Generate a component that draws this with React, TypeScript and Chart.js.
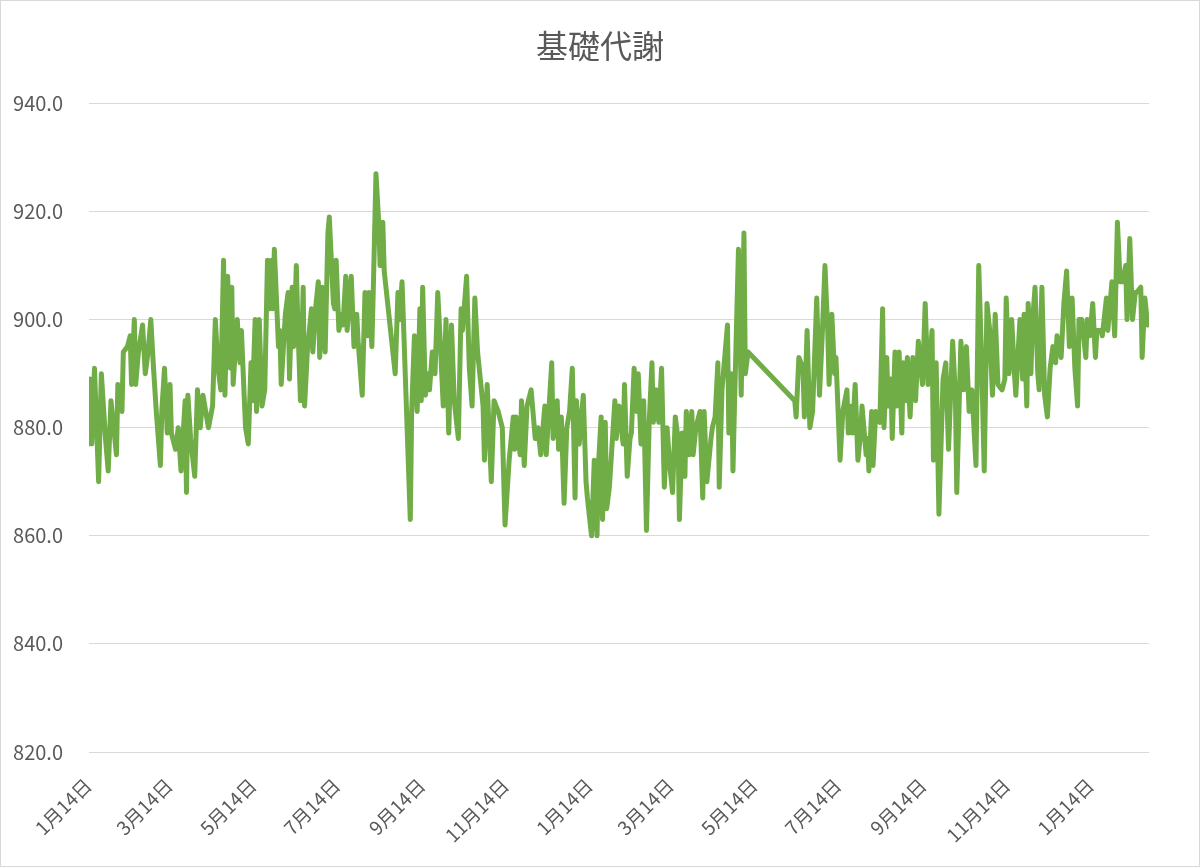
import React, { useEffect, useRef } from "react";
import { Chart, registerables } from "chart.js";

Chart.register(...registerables);

// Day offsets counted from the first 1月14日
const dayOffsets: number[] = [
  0, 1, 2, 4, 7, 9, 12, 14, 16, 20, 21, 24, 25, 28, 30, 31, 33, 34, 36, 39,
  41, 43, 45, 47, 49, 52, 53, 55, 57, 59, 60, 63, 65, 67, 70, 71, 72, 74, 77, 79,
  81, 83, 87, 90, 92, 94, 96, 98, 99, 101, 103, 104, 105, 108, 109, 110, 111, 113, 114, 116,
  118, 119, 121, 122, 124, 126, 128, 130, 132, 133, 134, 135, 138, 139, 140, 143, 145, 146, 148, 149,
  151, 152, 154, 156, 157, 159, 162, 163, 165, 167, 168, 170, 172, 174, 175, 178, 179, 180, 182, 184,
  185, 187, 188, 191, 193, 195, 196, 199, 201, 203, 204, 206, 207, 209, 211, 212, 214, 215,
  223, 225, 226, 228, 234, 235, 237, 239, 241, 242, 243, 245, 247, 248, 250, 252, 254, 256, 258, 260,
  262, 264, 266, 269, 271, 272, 275, 277, 279, 281, 283, 287, 288, 290, 293, 295, 298, 301, 303, 306,
  309, 310, 311, 314, 315, 317, 319, 322, 325, 327, 329, 332, 333, 337, 338, 341, 342, 344, 346, 348,
  350, 352, 354, 355, 357, 360, 362, 363, 366, 368, 370, 371, 373, 374, 376, 377, 379, 381, 383, 384,
  386, 389, 390, 392, 394, 395, 397, 399, 400, 402, 404, 406, 408, 410, 411, 413, 415, 417, 419, 421,
  423, 425, 427, 429, 430, 432, 434, 435, 437, 439, 440, 442, 445, 447, 448, 450, 453, 454, 456, 458,
  459, 461, 465, 466, 468, 469, 470, 473, 475, 477, 478, 480,
  514, 515, 517, 520, 521, 523, 525, 527, 530, 532, 534, 536, 538, 539, 541, 543, 544, 547, 549, 552,
  553, 554, 556, 558, 560, 562, 563, 566, 567, 568, 570, 571, 573, 576, 578, 579, 581, 582, 584, 585,
  587, 588, 590, 592, 593, 595, 596, 598, 600, 602, 604, 607, 609, 611, 614, 615, 617, 619, 622, 624,
  626, 629, 631, 632, 635, 637, 639, 641, 643, 646, 648, 650, 652, 654, 656, 658, 660, 662, 665, 667,
  668, 670, 672, 674, 675, 678, 680, 681, 683, 684, 686, 687, 689, 691, 692, 694, 696, 698, 700, 702,
  704, 705, 708, 710, 712, 714, 716, 718, 720, 721, 723, 726, 727, 729, 731, 733, 734, 737, 738, 741,
  742, 745, 747, 749, 751, 753, 755, 756, 758, 760, 762, 763, 766, 767, 769, 771,
];

// 基礎代謝 (kcal)
const bmrValues: number[] = [
  877, 889, 877, 891, 870, 890, 878, 872, 885, 875, 888, 883, 894, 895, 897, 888, 900, 888, 894, 899,
  890, 894, 900, 891, 883, 873, 883, 891, 879, 888, 879, 876, 880, 872, 885, 868, 886, 878, 871, 887,
  880, 886, 880, 884, 900, 891, 887, 911, 886, 908, 891, 906, 888, 900, 895, 892, 898, 886, 880, 877,
  892, 885, 900, 883, 900, 884, 887, 911, 902, 911, 902, 913, 895, 898, 888, 901, 905, 889, 906, 895,
  910, 900, 885, 906, 884, 894, 902, 894, 902, 907, 893, 906, 894, 916, 919, 903, 902, 911, 898, 901,
  899, 908, 898, 908, 895, 901, 896, 886, 905, 897, 905, 895, 905, 927, 918, 910, 918, 909,
  890, 905, 900, 907, 863, 883, 897, 883, 902, 885, 906, 886, 890, 887, 894, 890, 905, 895, 884, 900,
  879, 899, 885, 878, 902, 898, 908, 891, 884, 904, 894, 884, 874, 888, 870, 885, 883, 880, 862, 874,
  882, 876, 882, 875, 885, 873, 884, 887, 878, 880, 875, 884, 875, 892, 878, 885, 876, 882, 866, 880,
  883, 891, 867, 885, 877, 886, 870, 867, 860, 874, 860, 873, 882, 863, 881, 865, 869, 877, 885, 878,
  884, 877, 888, 871, 878, 879, 891, 883, 890, 877, 885, 861, 881, 892, 881, 887, 881, 891, 869, 880,
  873, 868, 882, 878, 863, 879, 871, 883, 875, 883, 875, 880, 883, 867, 883, 870, 878, 880, 882, 892,
  869, 887, 899, 879, 890, 872, 883, 913, 886, 916, 890, 894,
  885, 882, 893, 891, 882, 898, 880, 883, 904, 886, 897, 910, 898, 888, 901, 890, 893, 874, 883, 887,
  879, 884, 879, 888, 874, 879, 884, 875, 878, 872, 883, 873, 883, 881, 902, 880, 893, 884, 889, 878,
  894, 884, 894, 879, 892, 885, 893, 882, 893, 885, 896, 888, 903, 888, 898, 874, 892, 864, 889, 892,
  876, 896, 886, 868, 896, 887, 895, 883, 887, 873, 910, 893, 872, 903, 898, 886, 901, 888, 887, 889,
  904, 890, 900, 890, 886, 900, 889, 901, 884, 903, 890, 899, 906, 890, 887, 906, 886, 882, 891, 895,
  892, 897, 893, 903, 909, 895, 904, 891, 884, 900, 900, 893, 900, 897, 903, 893, 898, 898, 897, 904,
  898, 907, 897, 918, 907, 907, 910, 900, 915, 900, 905, 905, 906, 893, 904, 899,
];

const tickDays: number[] = [0, 59, 120, 181, 243, 304, 365, 424, 485, 546, 608, 669, 730];
const tickLabels: string[] = [
  "1月14日", "3月14日", "5月14日", "7月14日", "9月14日", "11月14日",
  "1月14日", "3月14日", "5月14日", "7月14日", "9月14日", "11月14日", "1月14日",
];
const yTicks: number[] = [820, 840, 860, 880, 900, 920, 940];

export default function App() {
  const canvasRef = useRef<HTMLCanvasElement | null>(null);

  useEffect(() => {
    if (!canvasRef.current) return;
    Chart.defaults.font.family = '"Noto Sans CJK JP", "Noto Sans", sans-serif';
    const chart = new Chart(canvasRef.current, {
      type: "line",
      data: {
        datasets: [
          {
            label: "基礎代謝",
            data: dayOffsets.map((d, i) => ({ x: d, y: bmrValues[i] })),
            borderColor: "#70ad47",
            backgroundColor: "#70ad47",
            borderWidth: 5,
            pointRadius: 0,
            tension: 0,
            borderJoinStyle: "round",
            borderCapStyle: "round",
          },
        ],
      },
      options: {
        animation: false,
        responsive: true,
        maintainAspectRatio: false,
        layout: { padding: 0 },
        plugins: {
          legend: { display: false },
          tooltip: { enabled: false },
          title: {
            display: true,
            text: "基礎代謝",
            color: "#595959",
            font: { size: 32, weight: "normal" },
            padding: { top: 26, bottom: 38 },
          },
        },
        scales: {
          x: {
            type: "linear",
            min: 0,
            max: 772,
            afterBuildTicks: (s: any) => {
              s.ticks = tickDays.map((v) => ({ value: v }));
            },
            afterFit: (s: any) => {
              s.height = 114;
            },
            grid: { display: false, drawTicks: false },
            border: { display: false },
            ticks: {
              autoSkip: false,
              minRotation: 45,
              maxRotation: 45,
              padding: 22,
              labelOffset: -1,
              color: "#595959",
              font: { size: 19 },
              callback: (_v: any, i: number) => tickLabels[i],
            },
          },
          y: {
            min: 820,
            max: 940,
            afterBuildTicks: (s: any) => {
              s.ticks = yTicks.map((v) => ({ value: v }));
            },
            afterFit: (s: any) => {
              s.width = 88;
            },
            grid: { color: "#d9d9d9", lineWidth: 1, drawTicks: false },
            border: { display: false },
            ticks: {
              padding: 26,
              color: "#595959",
              font: { size: 20 },
              callback: (v: any) => Number(v).toFixed(1),
            },
          },
          spacer: {
            type: "linear",
            position: "right",
            min: 0,
            max: 1,
            grid: { display: false, drawTicks: false },
            border: { display: false },
            ticks: { display: false },
            afterFit: (s: any) => {
              s.width = 50;
            },
          },
        },
      },
    });
    return () => chart.destroy();
  }, []);

  return (
    <div
      style={{
        position: "fixed",
        left: 0,
        top: 0,
        width: 1200,
        height: 867,
        boxSizing: "border-box",
        border: "1px solid #d9d9d9",
        background: "#ffffff",
      }}
    >
      <div style={{ position: "relative", width: 1198, height: 865 }}>
        <canvas ref={canvasRef} />
      </div>
    </div>
  );
}
